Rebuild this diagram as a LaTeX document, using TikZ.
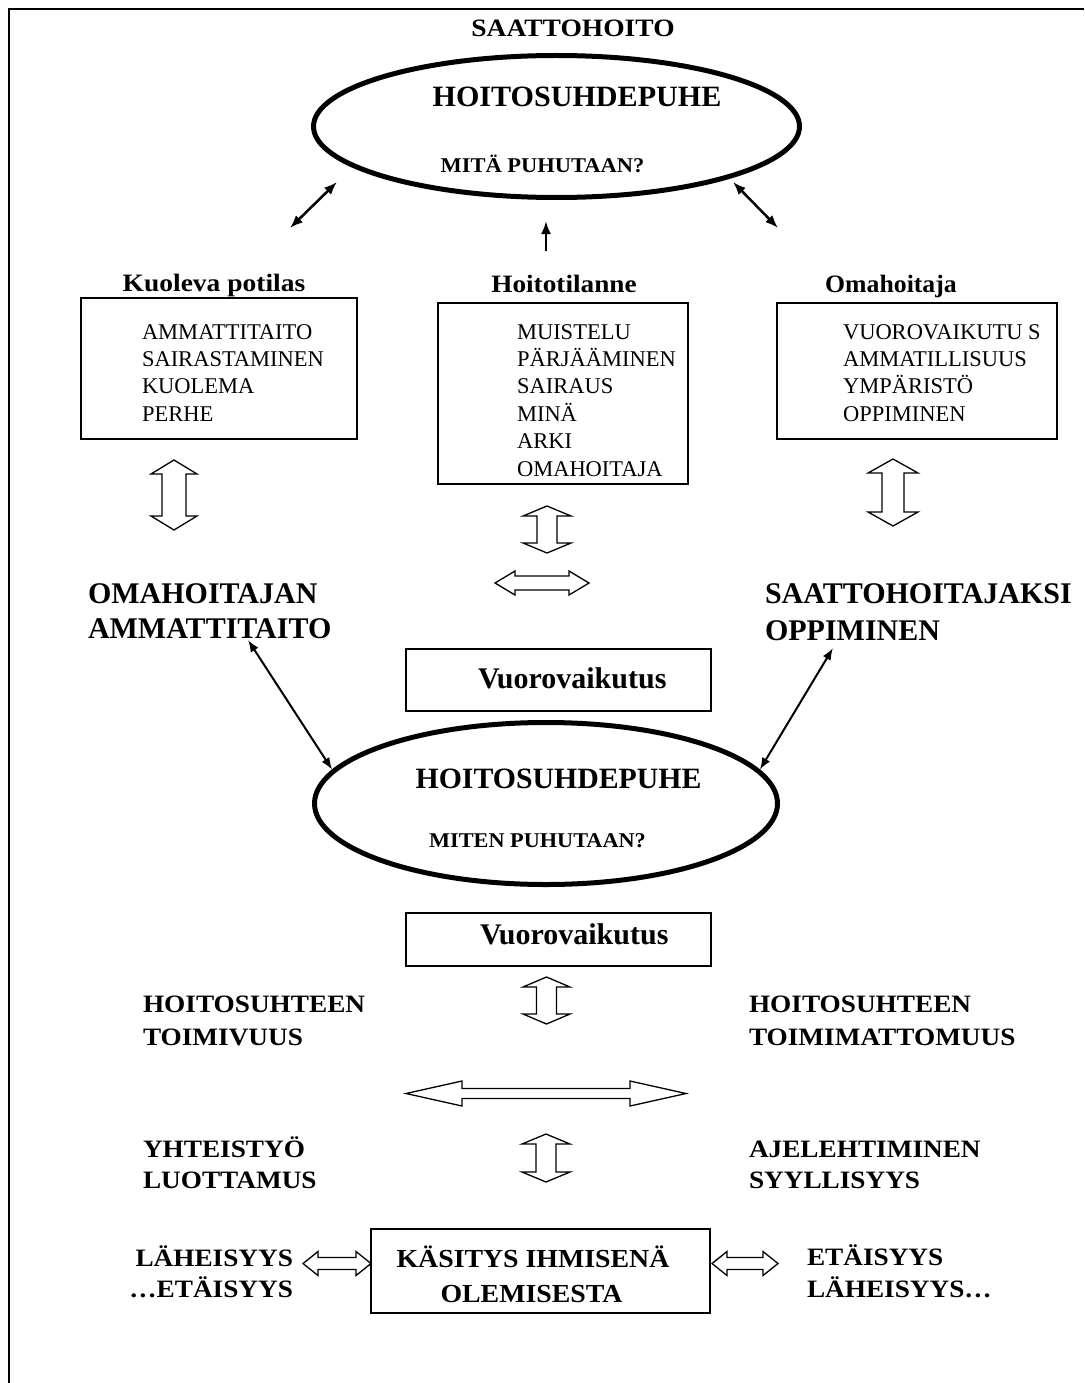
\documentclass[tikz,border=0pt]{standalone}
\usepackage{fontspec}
\usepackage{graphicx}
\setmainfont{Liberation Serif}
\usetikzlibrary{shapes.geometric,arrows.meta}
\newcommand\bt[3]{\fontsize{#1}{#1}\selectfont\bfseries\scalebox{#2}[1]{#3}}
\newcommand\hollowv[6]{\draw[hollowarrow] (#1,#2) -- ++(#4,#6) -- ++(-#4+#5,0) -- (#1+#5,#3-#6) -- ++(#4-#5,0) -- (#1,#3) -- ++(-#4,-#6) -- ++(#4-#5,0) -- (#1-#5,#2+#6) -- ++(-#4+#5,0) -- cycle;}
\newcommand\hollowh[6]{\draw[hollowarrow] (#2,#1) -- ++(#6,-#4) -- ++(0,#4-#5) -- (#3-#6,#1-#5) -- ++(0,-#4+#5) -- (#3,#1) -- ++(-#6,#4) -- ++(0,-#4+#5) -- (#2+#6,#1+#5) -- ++(0,#4-#5) -- cycle;}
\tikzset{
  lbl/.style={inner sep=0, outer sep=0},
  item/.style={inner sep=0, outer sep=0, anchor=base west, font=\fontsize{22.5}{26}\selectfont},
  box/.style={draw, line width=1.5, inner sep=0},
  oval/.style={ellipse, draw, line width=5, inner sep=0},
  link/.style={line width=2.5, {Latex[length=13,width=10]}-{Latex[length=13,width=10]}},
  thinlink/.style={line width=2, {Latex[length=12,width=9]}-{Latex[length=12,width=9]}},
  hollowarrow/.style={draw, fill=white, line width=1.3, line join=miter},
}
\begin{document}
\begin{tikzpicture}[x=1pt,y=-1pt]
\useasboundingbox (0,0) rectangle (1084,1383);
% frame
\draw[line width=2] (9,1383) -- (9,9) -- (1084,9);

% title and top ellipse
\node[lbl, anchor=base] (title) at (573,37) {\bt{25}{1.1}{SAATTOHOITO}};
\node[oval, minimum width=486, minimum height=142] (e1) at (556.5,126.5) {};
\node[lbl, anchor=base] (e1t) at (577,107) {\bt{29.5}{1.02}{HOITOSUHDEPUHE}};
\node[lbl, anchor=base] (e1s) at (542.5,173) {\bt{21}{1.07}{MITÄ PUHUTAAN?}};

% top arrows
\coordinate (la1) at (290,228); \coordinate (la2) at (337,182);
\coordinate (ra1) at (778,228); \coordinate (ra2) at (733,182);
\coordinate (ca1) at (546,251); \coordinate (ca2) at (546,221);
\draw[link] (la1) -- (la2);
\draw[link] (ra1) -- (ra2);
\draw[line width=2.5, -{Latex[length=13,width=10]}] (ca1) -- (ca2);

% headers
\node[lbl, anchor=base] (h1) at (214,291) {\bt{25}{1.1}{Kuoleva potilas}};
\node[lbl, anchor=base] (h2) at (564,292) {\bt{25}{1.09}{Hoitotilanne}};
\node[lbl, anchor=base] (h3) at (891,292) {\bt{25}{1.03}{Omahoitaja}};

% boxes
\node[box, minimum width=276, minimum height=141] (b1) at (219,368.5) {};
\node[box, minimum width=250, minimum height=181] (b2) at (563,393.5) {};
\node[box, minimum width=280, minimum height=136] (b3) at (917,371) {};
\foreach \t [count=\i] in {AMMATTITAITO, SAIRASTAMINEN, KUOLEMA, PERHE}
  \node[item] (p\i) at (142,{339+27.4*(\i-1)}) {\t};
\foreach \t [count=\i] in {MUISTELU, PÄRJÄÄMINEN, SAIRAUS, MINÄ, ARKI, OMAHOITAJA}
  \node[item] (s\i) at (517,{339+27.4*(\i-1)}) {\t};
\foreach \t [count=\i] in {VUOROVAIKUTU S, AMMATILLISUUS, YMPÄRISTÖ, OPPIMINEN}
  \node[item] (o\i) at (843,{339+27.4*(\i-1)}) {\t};

% hollow arrows under boxes
\hollowv{174}{460}{530}{23}{12}{14}
\hollowv{547}{506}{553}{24}{10}{10}
\hollowv{893}{459}{526}{25}{11}{14}
\hollowh{583}{495}{589}{12}{7}{20}

% side labels
\node[lbl, anchor=base west] (l1) at (88,603) {\bt{30}{1}{OMAHOITAJAN}};
\node[lbl, anchor=base west] (l2) at (88,638) {\bt{30}{1}{AMMATTITAITO}};
\node[lbl, anchor=base west] (r1) at (765,603) {\bt{30}{1}{SAATTOHOITAJAKSI}};
\node[lbl, anchor=base west] (r2) at (765,640) {\bt{30}{1}{OPPIMINEN}};

% Vuorovaikutus 1
\node[box, minimum width=305, minimum height=62] (v1) at (558.5,680) {};
\node[lbl, anchor=base west] (v1t) at (478,688) {\bt{30}{1}{Vuorovaikutus}};

% bottom ellipse
\node[oval, minimum width=463, minimum height=162] (e2) at (546,803.5) {};
\node[lbl, anchor=base] (e2t) at (558.5,788) {\bt{29.5}{1.01}{HOITOSUHDEPUHE}};
\node[lbl, anchor=base] (e2s) at (537.5,847) {\bt{21}{1.06}{MITEN PUHUTAAN?}};

\coordinate (lb) at (248,640);
\coordinate (rb) at (833,648);
\draw[thinlink] (lb) -- (e2.171);
\draw[thinlink] (rb) -- (e2.9);

% Vuorovaikutus 2
\node[box, minimum width=305, minimum height=53] (v2) at (558.5,939.5) {};
\node[lbl, anchor=base west] (v2t) at (480,944) {\bt{30}{1}{Vuorovaikutus}};

\hollowv{546.5}{977}{1024}{23.5}{10}{10}
\hollowh{1093.5}{406}{686}{12.5}{5}{56}
\hollowv{546}{1134}{1182}{24}{10}{10}

% lower labels
\node[lbl, anchor=base west] (t1) at (143,1012) {\bt{25}{1.09}{HOITOSUHTEEN}};
\node[lbl, anchor=base west] (t2) at (143,1045) {\bt{25}{1.09}{TOIMIVUUS}};
\node[lbl, anchor=base west] (t3) at (749,1012) {\bt{25}{1.09}{HOITOSUHTEEN}};
\node[lbl, anchor=base west] (t4) at (749,1045) {\bt{25}{1.09}{TOIMIMATTOMUUS}};
\node[lbl, anchor=base west] (t5) at (143,1157) {\bt{25}{1.09}{YHTEISTYÖ}};
\node[lbl, anchor=base west] (t6) at (143,1188) {\bt{25}{1.09}{LUOTTAMUS}};
\node[lbl, anchor=base west] (t7) at (749,1157) {\bt{25}{1.09}{AJELEHTIMINEN}};
\node[lbl, anchor=base west] (t8) at (749,1188) {\bt{25}{1.09}{SYYLLISYYS}};

% bottom row
\node[box, minimum width=339, minimum height=84] (kb) at (540.5,1271) {};
\node[lbl, anchor=base] (k1) at (533,1267) {\bt{26}{1.07}{KÄSITYS IHMISENÄ}};
\node[lbl, anchor=base] (k2) at (531.5,1302) {\bt{26}{1.07}{OLEMISESTA}};
\node[lbl, anchor=base east] (d1) at (293,1266) {\bt{25}{1.09}{LÄHEISYYS}};
\node[lbl, anchor=base east] (d2) at (293,1297) {\bt{25}{1.09}{…ETÄISYYS}};
\node[lbl, anchor=base west] (d3) at (807,1265) {\bt{25}{1.09}{ETÄISYYS}};
\node[lbl, anchor=base west] (d4) at (807,1297) {\bt{25}{1.09}{LÄHEISYYS…}};
\hollowh{1263.5}{303}{371}{12}{6}{15}
\hollowh{1263.5}{712}{778}{12}{6}{15}
\end{tikzpicture}
\end{document}
